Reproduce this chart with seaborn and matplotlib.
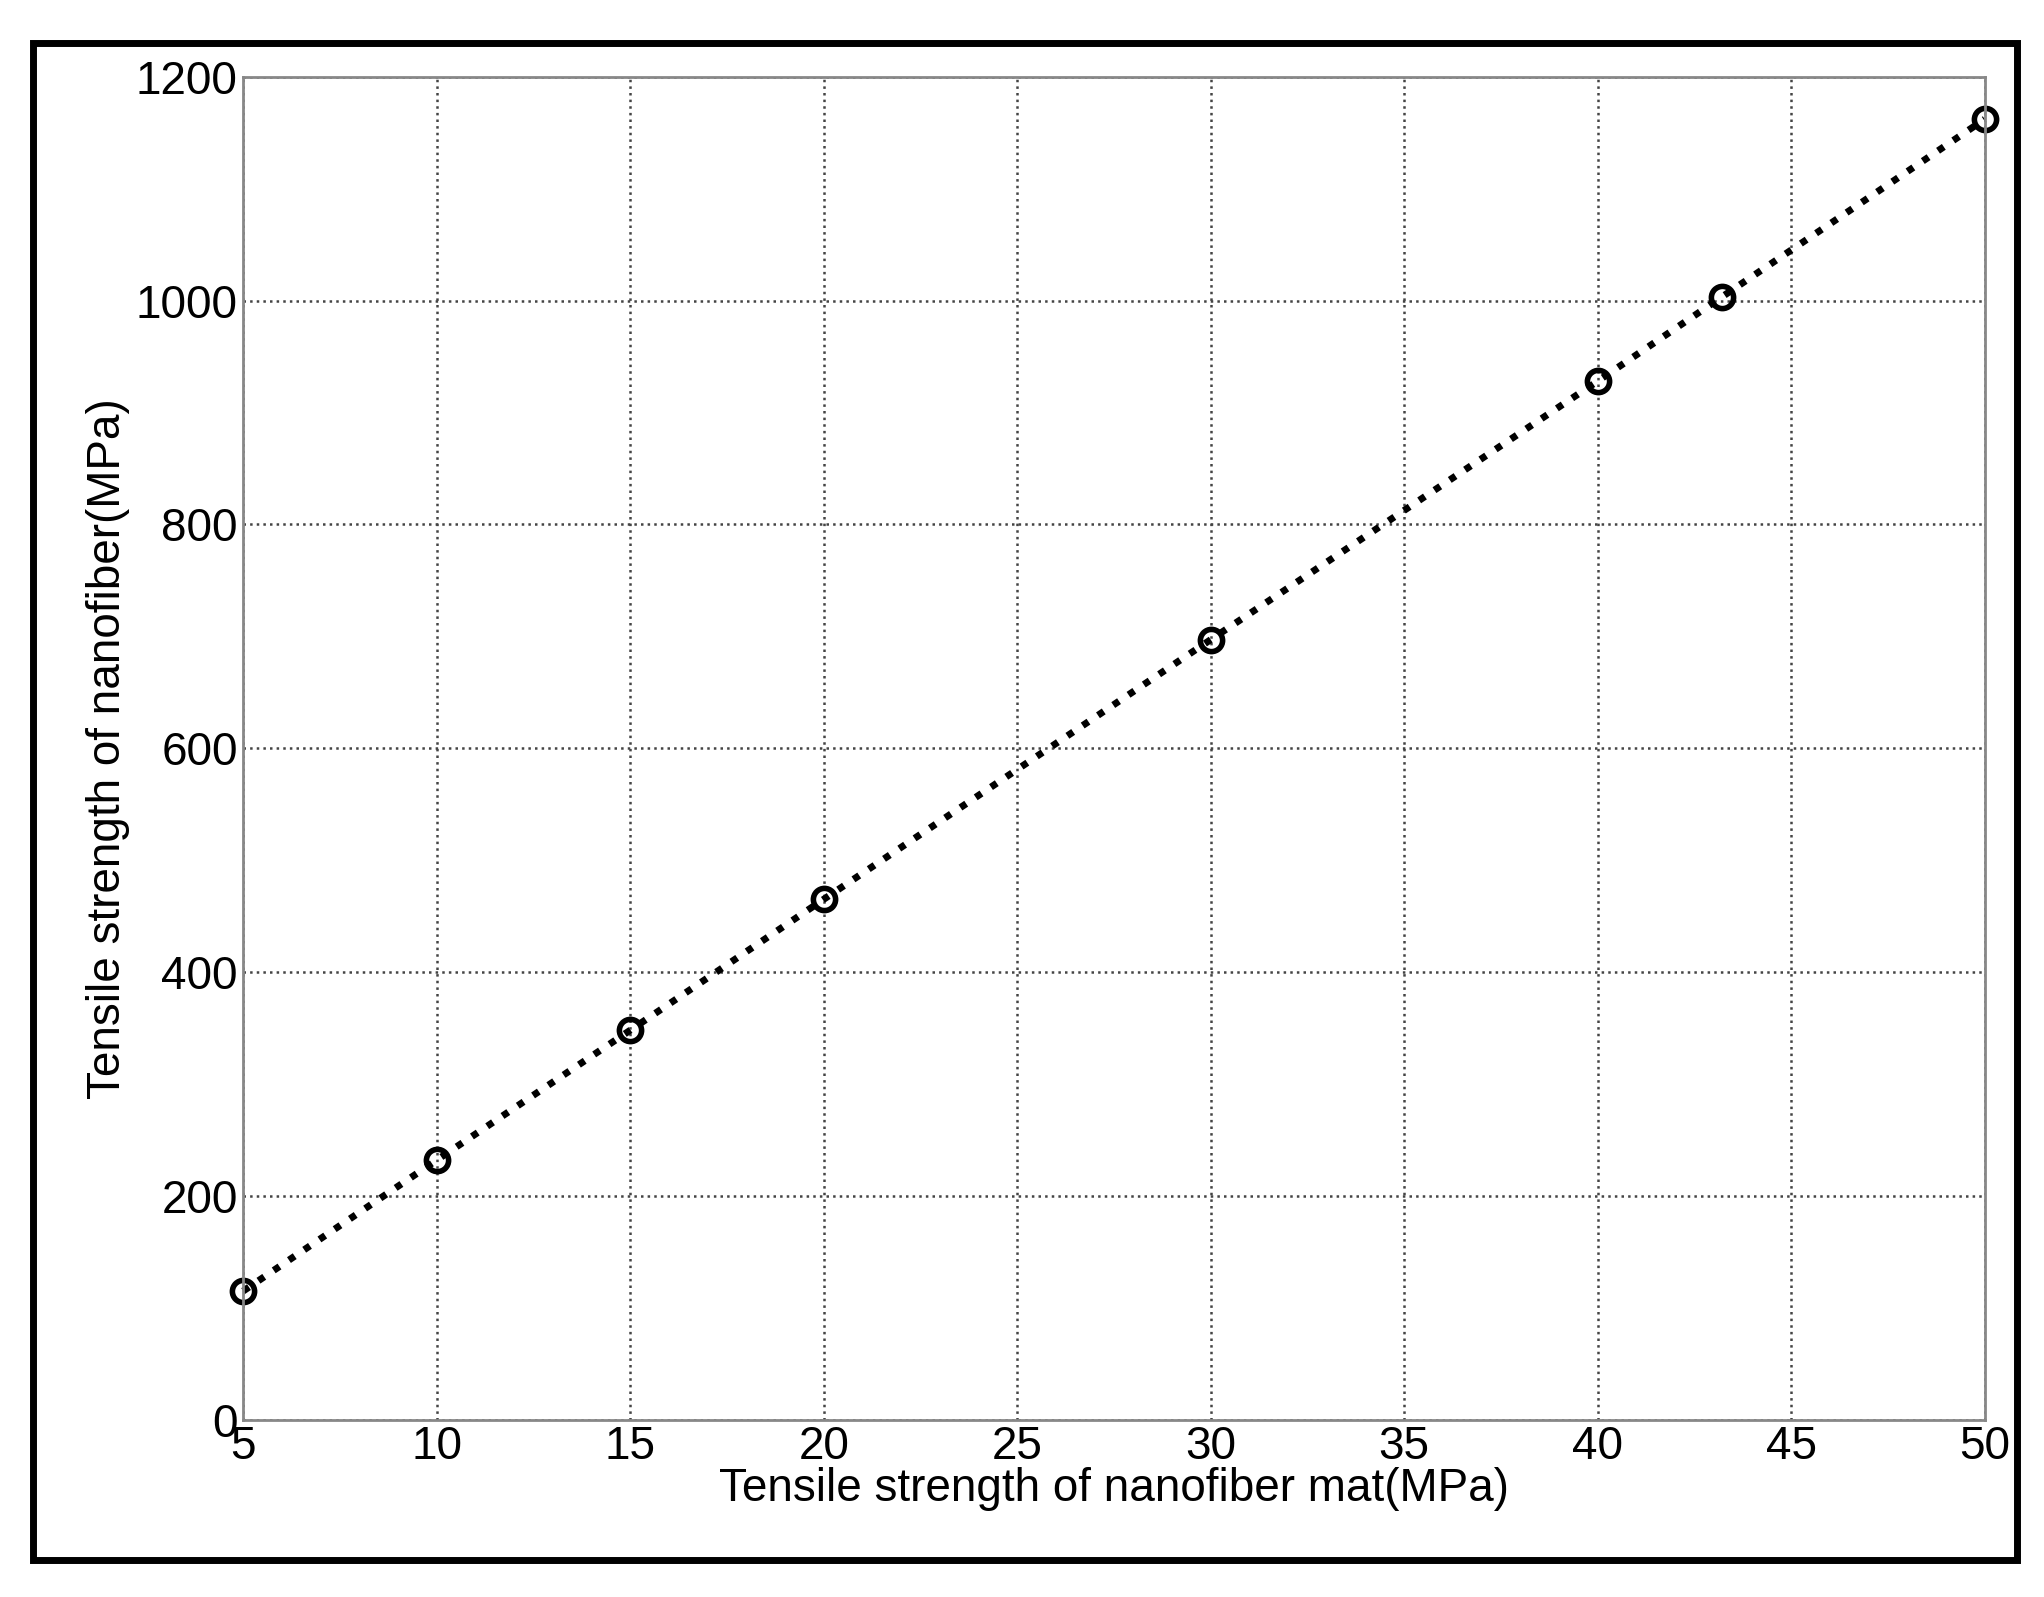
import matplotlib
matplotlib.use("Agg")
import matplotlib.pyplot as plt
import seaborn as sns
import pandas as pd
from matplotlib.patches import Rectangle

mat_strength = [5, 10, 15, 20, 30, 40, 43.2, 50]
fiber_strength = [115, 232, 348, 465, 697, 928, 1003, 1162]
x_ticks = [5, 10, 15, 20, 25, 30, 35, 40, 45, 50]
y_ticks = [0, 200, 400, 600, 800, 1000, 1200]

df = pd.DataFrame({"mat": mat_strength, "fiber": fiber_strength})

sns.set_style("white")
plt.rcParams["font.family"] = ["Liberation Sans", "DejaVu Sans"]

fig = plt.figure(figsize=(20.44, 15.97), dpi=100)
fig.patches.append(Rectangle((0.016, 0.023), 0.971, 0.95, transform=fig.transFigure,
                             fill=False, edgecolor="black", linewidth=5))
ax = fig.add_axes([0.119, 0.111, 0.852, 0.841])

sns.lineplot(data=df, x="mat", y="fiber", ax=ax, color="black", linestyle=":",
             linewidth=5, marker="o", markersize=16, markerfacecolor="none",
             markeredgecolor="black", markeredgewidth=4, clip_on=False)

ax.set_xlim(5, 50)
ax.set_ylim(0, 1200)
ax.set_xticks(x_ticks)
ax.set_yticks(y_ticks)
ax.grid(True, color="#444444", linestyle=":", linewidth=1.8)
for s in ax.spines.values():
    s.set_color("#888888")
    s.set_linewidth(2)
ax.tick_params(labelsize=33, direction="in", length=8, color="#888888",
               labelcolor="black", pad=4)
ax.set_xlabel("Tensile strength of nanofiber mat(MPa)", fontsize=33, labelpad=-2, color="black")
ax.set_ylabel("Tensile strength of nanofiber(MPa)", fontsize=33, labelpad=4, color="black")

fig.savefig("out.png", dpi=100)
